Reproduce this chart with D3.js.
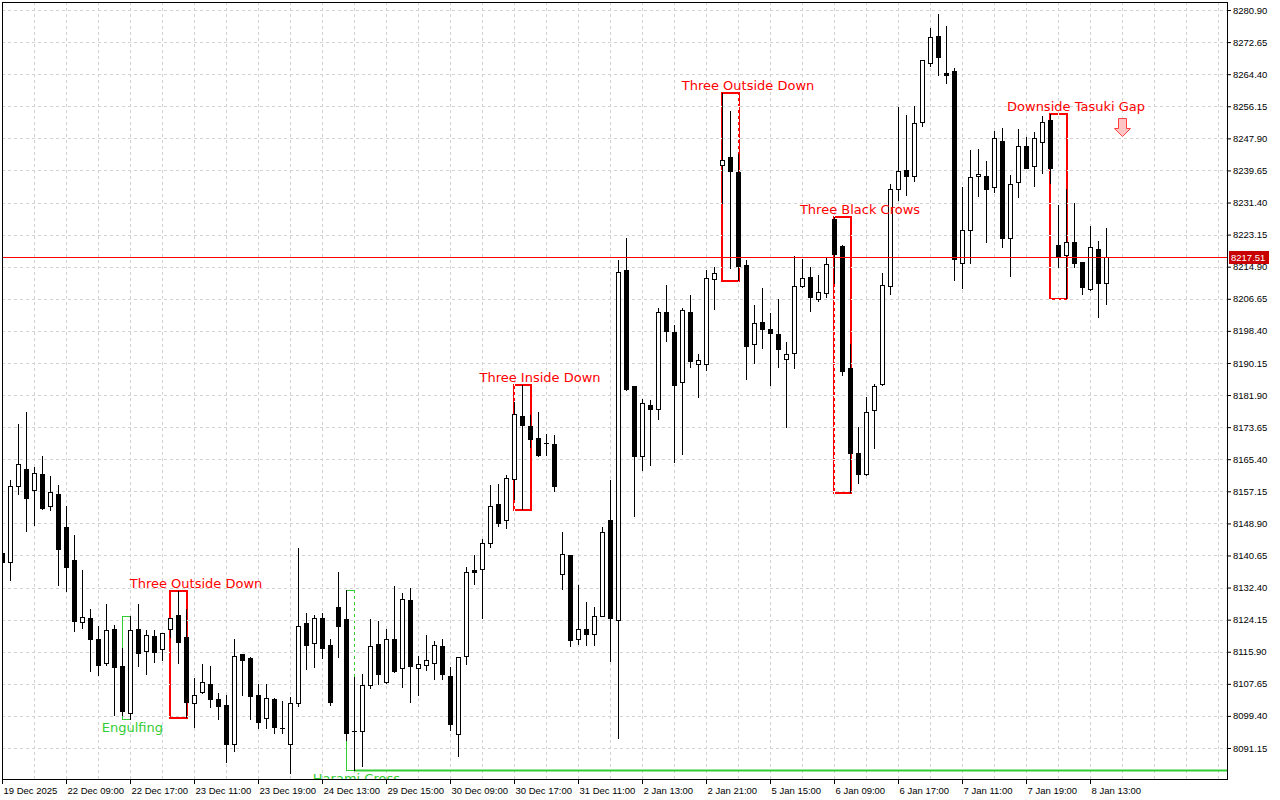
<!DOCTYPE html>
<html><head><meta charset="utf-8">
<script src="https://cdn.jsdelivr.net/npm/d3@7"></script>
<style>body{margin:0;background:#fff}svg{display:block}</style>
</head><body><svg id="c" width="1280" height="800"></svg>
<script>
const opens=[8141.3,8139.0,8158.6,8163.0,8157.6,8161.6,8153.5,8156.4,8148.0,8139.5,8123.5,8124.7,8119.3,8112.9,8121.7,8112.2,8100.2,8121.7,8116.0,8119.9,8116.5,8121.7,8125.3,8119.6,8102.6,8105.6,8107.6,8103.8,8102.3,8092.3,8115.2,8114.4,8104.9,8098.8,8103.7,8096.2,8092.2,8102.6,8123.3,8118.2,8124.5,8117.7,8127.3,8124.3,8095.5,8095.6,8107.3,8117.9,8108.1,8119.1,8111.6,8129.2,8111.6,8112.5,8112.9,8117.4,8109.6,8094.7,8114.8,8136.9,8137.1,8143.9,8153.8,8149.7,8160.2,8176.5,8174.0,8170.8,8169.6,8169.3,8135.9,8140.7,8119.3,8121.8,8120.4,8125.2,8149.7,8124.0,8214.0,8184.2,8166.1,8179.3,8178.2,8203.2,8198.1,8185.3,8203.2,8189.9,8189.9,8211.7,8241.0,8243.0,8239.3,8215.3,8194.9,8200.6,8199.0,8197.6,8191.1,8192.6,8210.0,8212.2,8206.5,8208.1,8227.1,8220.2,8188.8,8166.9,8161.5,8178.0,8184.7,8210.0,8234.9,8239.8,8238.2,8252.2,8267.2,8274.2,8264.8,8265.2,8215.8,8224.3,8238.2,8238.2,8235.3,8247.3,8222.2,8236.6,8245.9,8240.9,8247.0,8252.6,8220.6,8217.9,8221.2,8216.0,8209.1,8219.4,8210.6];
const highs=[8142.0,8160.0,8174.4,8177.5,8163.5,8166.2,8161.1,8158.8,8153.4,8145.9,8136.9,8126.8,8122.5,8128.2,8122.8,8116.8,8125.1,8128.2,8121.5,8121.5,8120.8,8124.6,8131.6,8126.8,8109.1,8112.7,8112.2,8105.4,8104.8,8119.3,8115.4,8114.6,8107.6,8107.6,8103.9,8103.2,8104.3,8142.6,8125.9,8125.3,8125.8,8119.3,8136.5,8131.8,8109.3,8110.3,8124.2,8123.7,8121.7,8132.8,8130.9,8132.2,8114.8,8120.2,8118.6,8119.1,8112.0,8114.6,8137.6,8140.9,8144.8,8158.8,8159.0,8161.3,8180.2,8184.5,8176.8,8177.6,8171.9,8171.6,8146.7,8140.9,8133.0,8128.8,8127.3,8148.1,8160.0,8216.7,8222.3,8184.2,8181.0,8180.6,8204.3,8210.3,8199.9,8204.3,8207.6,8192.4,8214.0,8214.9,8259.5,8254.9,8243.9,8216.6,8205.0,8209.3,8202.9,8206.7,8195.6,8217.6,8216.8,8214.9,8212.8,8217.4,8227.8,8220.4,8195.0,8173.7,8181.5,8184.7,8213.3,8236.2,8256.0,8253.9,8256.2,8268.1,8276.2,8279.9,8276.8,8265.9,8235.3,8244.9,8245.1,8242.1,8249.9,8250.5,8238.5,8250.2,8248.3,8249.6,8253.7,8254.2,8230.7,8234.8,8231.2,8216.2,8225.4,8221.6,8224.8];
const lows=[8137.5,8134.3,8156.4,8147.0,8148.5,8152.5,8152.3,8133.0,8131.5,8121.3,8122.1,8111.0,8109.9,8112.5,8099.6,8099.6,8098.5,8112.3,8110.1,8113.2,8113.9,8119.8,8112.9,8099.2,8096.6,8105.2,8101.8,8098.5,8087.6,8090.4,8104.8,8098.5,8096.2,8096.2,8095.1,8095.1,8084.6,8102.0,8111.5,8112.0,8114.3,8102.2,8114.6,8093.2,8085.6,8086.6,8106.5,8107.6,8107.8,8110.8,8106.9,8102.9,8104.9,8111.2,8108.8,8108.8,8095.8,8089.2,8112.7,8133.2,8124.6,8142.9,8148.2,8147.8,8155.1,8152.6,8168.6,8166.2,8166.5,8157.2,8132.1,8117.5,8118.0,8117.7,8117.7,8125.0,8113.6,8093.6,8183.2,8150.7,8162.7,8164.0,8175.7,8195.9,8164.7,8166.8,8189.0,8181.3,8188.4,8203.9,8231.4,8214.6,8211.6,8186.0,8190.2,8193.9,8184.6,8189.2,8173.6,8188.8,8209.7,8203.6,8206.2,8207.0,8210.6,8187.0,8156.9,8159.2,8161.3,8168.2,8184.4,8207.8,8232.0,8233.3,8236.9,8251.1,8266.6,8264.2,8262.2,8211.5,8209.3,8215.8,8233.2,8221.3,8234.2,8220.0,8212.6,8232.9,8240.2,8235.7,8238.9,8236.3,8214.7,8206.8,8214.9,8208.0,8209.0,8202.0,8205.3];
const closes=[8139.0,8158.5,8164.1,8155.5,8161.8,8152.9,8156.9,8142.4,8137.7,8123.9,8124.9,8119.1,8112.5,8121.5,8112.0,8100.7,8121.5,8115.7,8120.1,8115.9,8120.6,8124.5,8118.5,8103.0,8104.9,8108.0,8103.7,8102.0,8092.1,8114.9,8113.9,8104.6,8097.9,8103.9,8096.6,8096.2,8102.8,8122.5,8117.6,8124.7,8116.9,8103.0,8122.6,8094.9,8095.5,8107.3,8117.4,8110.3,8119.1,8111.0,8129.4,8112.3,8112.7,8113.8,8117.6,8110.3,8097.2,8114.5,8136.3,8136.4,8143.8,8153.5,8149.1,8160.6,8176.9,8174.3,8170.5,8166.5,8169.5,8158.5,8141.0,8119.0,8121.8,8120.4,8125.2,8146.7,8124.6,8213.5,8183.5,8166.2,8179.8,8178.4,8203.2,8198.3,8184.6,8203.7,8190.6,8191.0,8212.1,8213.2,8242.3,8239.6,8215.1,8194.6,8200.3,8198.8,8197.8,8193.7,8192.4,8209.9,8211.9,8207.2,8208.3,8215.5,8218.2,8188.2,8166.9,8161.5,8177.5,8184.2,8210.2,8235.0,8239.6,8238.3,8251.8,8268.0,8273.9,8268.9,8264.3,8216.8,8224.3,8237.9,8238.7,8234.8,8247.9,8222.2,8236.1,8245.9,8240.4,8247.9,8252.2,8240.4,8217.3,8221.3,8215.8,8209.6,8219.9,8210.6,8217.51];

const xTickLabels=["19 Dec 2025","22 Dec 09:00","22 Dec 17:00","23 Dec 11:00","23 Dec 19:00","24 Dec 13:00","29 Dec 15:00","30 Dec 09:00","30 Dec 17:00","31 Dec 11:00","2 Jan 13:00","2 Jan 21:00","5 Jan 15:00","6 Jan 09:00","6 Jan 17:00","7 Jan 11:00","7 Jan 19:00","8 Jan 13:00"];
const yTickLabels=["8091.15","8099.40","8107.65","8115.90","8124.15","8132.40","8140.65","8148.90","8157.15","8165.40","8173.65","8181.90","8190.15","8198.40","8206.65","8214.90","8223.15","8231.40","8239.65","8247.90","8256.15","8264.40","8272.65","8280.90"];
const lastPrice=8217.51;

const patternNames=["Engulfing","Three Outside Down","Harami Cross","Three Inside Down","Three Outside Down","Three Black Crows","Downside Tasuki Gap"];
const patternStart=[15,21,43,64,90,104,131];
const patternEnd=[16,23,44,66,92,106,133];
const patternBullish=[true,false,true,false,false,false,false];
const arrowBar=140, arrowPrice=8253.1;
const rayStartBar=44;

const L=2,T=2,R=1227,B=779;
const svg=d3.select("#c");
const x=d3.scaleLinear().domain([0,153.125]).range([L,R]);
const y=d3.scaleLinear().domain([8091.15,8280.90]).range([748,10]);
const yTicks=yTickLabels.map(Number);
const xTickIdx=d3.range(0,xTickLabels.length*8,8);
const px=v=>Math.round(v)+0.5;

svg.append("defs").append("clipPath").attr("id","plot").append("rect")
  .attr("x",L).attr("y",T).attr("width",R-L).attr("height",B-T);
const plot=svg.append("g").attr("clip-path","url(#plot)");

const gridColor="#d2d2d2";
const vgrid=d3.range(4,153,4).map(i=>x(i)).filter(v=>v<R);
function drawGrid(g,color,offset){
  g.selectAll(".h").data(yTicks).join("line")
    .attr("x1",L).attr("x2",R).attr("y1",d=>px(y(d))).attr("y2",d=>px(y(d)))
    .attr("stroke",color).attr("stroke-dasharray","3,3").attr("stroke-dashoffset",offset);
  g.selectAll(".v").data(vgrid).join("line").attr("class","v")
    .attr("x1",d=>px(d)).attr("x2",d=>px(d)).attr("y1",T).attr("y2",B)
    .attr("stroke",color).attr("stroke-dasharray","3,3").attr("stroke-dashoffset",offset);
}
drawGrid(plot.append("g"),gridColor,0);

// pattern boxes
const pats=patternNames.map((n,k)=>{
  const s=patternStart[k],e=patternEnd[k];
  return {name:n,s,e,bull:patternBullish[k],
    top:d3.max(highs.slice(s,e+1)),bot:d3.min(lows.slice(s,e+1))};
});
const boxG=plot.append("g");
pats.forEach(p=>{
  const col=p.bull?"#32cd32":"#ff0000";
  const sw=p.bull?1:2;
  const x1=p.bull?px(x(p.s)):Math.round(x(p.s)), x2=p.bull?px(x(p.e)):Math.round(x(p.e))+1;
  const y1=p.bull?px(y(p.top)):Math.round(y(p.top)), y2=p.bull?px(y(p.bot)):Math.round(y(p.bot))+1;
  boxG.append("rect").attr("x",x1).attr("y",y1).attr("width",x2-x1).attr("height",y2-y1)
    .attr("fill","none").attr("stroke",col).attr("stroke-width",sw);
});
// Harami ray
const rayY=lows[rayStartBar];
boxG.append("line").attr("x1",x(rayStartBar)).attr("x2",R).attr("y1",Math.round(y(rayY))+0.5).attr("y2",Math.round(y(rayY))+0.5)
  .attr("stroke","#32cd32").attr("stroke-width",2);

// white gaps of the grid over box edges
const cp=svg.select("defs").append("clipPath").attr("id","boxes");
pats.forEach(p=>{
  cp.append("rect").attr("x",x(p.s)-2).attr("y",y(p.top)-2)
    .attr("width",x(p.e)-x(p.s)+4).attr("height",y(p.bot)-y(p.top)+4);
});
drawGrid(plot.append("g").attr("clip-path","url(#boxes)"),"#ffffff",3);

// candles
const idx=d3.range(opens.length);
const cg=plot.append("g");
cg.selectAll(".w").data(idx).join("line")
  .attr("x1",i=>px(x(i))).attr("x2",i=>px(x(i)))
  .attr("y1",i=>Math.round(y(highs[i]))).attr("y2",i=>Math.round(y(lows[i]))+1)
  .attr("stroke","#000");
idx.forEach(i=>{
  const yt=Math.round(y(Math.max(opens[i],closes[i]))), yb=Math.round(y(Math.min(opens[i],closes[i])));
  const cx=Math.round(x(i));
  if(yb-yt<1){
    cg.append("line").attr("x1",cx-2).attr("x2",cx+3).attr("y1",yt+0.5).attr("y2",yt+0.5).attr("stroke","#000");
  } else {
    cg.append("rect").attr("x",cx-1.5).attr("y",yt+0.5).attr("width",4).attr("height",yb-yt)
      .attr("fill",closes[i]>=opens[i]?"#fff":"#000").attr("stroke","#000");
  }
});

// price line
const py=Math.round(y(lastPrice));
svg.append("rect").attr("x",L+1).attr("y",py).attr("width",R-L-1).attr("height",1)
  .attr("fill","#ff0000").attr("shape-rendering","crispEdges");

// labels
const tg=plot.append("g").attr("font-family","DejaVu Sans").attr("font-size","13px").attr("text-anchor","middle");
pats.forEach(p=>{
  if(p.bull){
    tg.append("text").attr("x",x(p.e+0.3)).attr("y",Math.round(y(p.bot))+13).attr("fill","#32cd32").text(p.name);
  } else {
    tg.append("text").attr("x",x(p.e+1.25)).attr("y",Math.round(y(p.top))-3).attr("fill","#ff0000").text(p.name);
  }
});

// arrow
const ax=Math.round(x(arrowBar))+0.5, ay=Math.round(y(arrowPrice))+0.5;
plot.append("path")
  .attr("d",`M${ax-4},${ay} H${ax+4} V${ay+10} H${ax+8} L${ax},${ay+18} L${ax-8},${ay+10} H${ax-4} Z`)
  .attr("fill","#ffc4c4").attr("stroke","#ff4040").attr("stroke-width",1);

// frame
svg.append("rect").attr("x",L+0.5).attr("y",T+0.5).attr("width",R-L).attr("height",B-T)
  .attr("fill","none").attr("stroke","#000");

// axes
const yAxis=d3.axisRight(y).tickValues(yTicks).tickFormat((d,i)=>yTickLabels[i]).tickSize(4).tickPadding(2);
const ya=svg.append("g").attr("transform",`translate(${R},0)`).call(yAxis);
ya.select(".domain").remove();
ya.selectAll("text").attr("font-family","Liberation Sans").attr("font-size","9.5px").attr("fill","#000");
ya.selectAll("line").attr("stroke","#000");

const xAxis=d3.axisBottom(x).tickValues(xTickIdx).tickFormat((d,i)=>xTickLabels[i]).tickSize(5).tickPadding(3);
const xa=svg.append("g").attr("transform",`translate(0,${B})`).call(xAxis);
xa.select(".domain").remove();
xa.selectAll("text").attr("font-family","Liberation Sans").attr("font-size","9.5px").attr("fill","#000")
  .attr("text-anchor","start").attr("x",1);
xa.selectAll("line").attr("stroke","#000");

// price label
const pl=svg.append("g");
pl.append("rect").attr("x",R+2).attr("y",py-6).attr("width",40).attr("height",13).attr("fill","#c80000");
pl.append("text").attr("x",R+4).attr("y",py+4).attr("font-family","Liberation Sans").attr("font-size","9.5px")
  .attr("fill","#fff").text(lastPrice.toFixed(2));
</script></body></html>
